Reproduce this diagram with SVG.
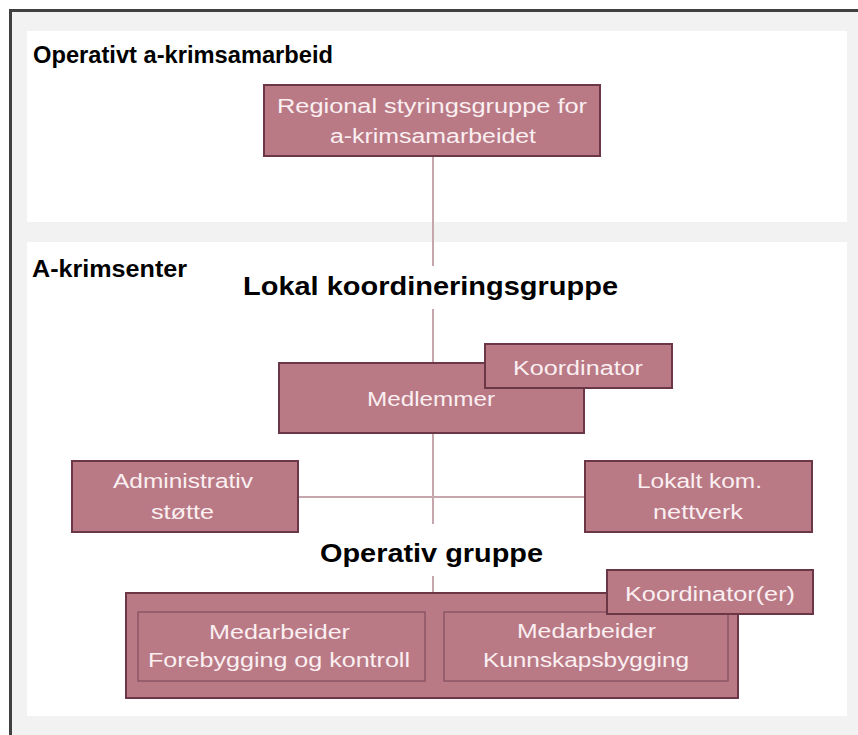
<svg xmlns="http://www.w3.org/2000/svg" width="858" height="735" viewBox="0 0 858 735">
<style>
.frame{fill:#f2f2f2;stroke:#404040;stroke-width:3}
.panel{fill:#ffffff}
.box{fill:#b97a86;stroke:#6b3746;stroke-width:2}
.inner{fill:#b97a86;stroke:#8c5664;stroke-width:1.5}
.bt{font-family:"Liberation Sans",Arial,sans-serif;font-size:20px;fill:#fbeff1;text-anchor:middle}
.hd{font-family:"Liberation Sans",Arial,sans-serif;font-weight:bold;fill:#000000}
.hc{text-anchor:middle}
.conn{stroke:#c7a7ae;stroke-width:2;fill:none}
</style>
<g id="background">
<rect class="frame" x="10.5" y="10.5" width="870" height="750"/>
<rect class="panel" x="27" y="31" width="820" height="191"/>
<rect class="panel" x="27" y="242" width="820" height="474"/>
<text class="hd" x="33" y="63" font-size="23" textLength="300" lengthAdjust="spacingAndGlyphs">Operativt a-krimsamarbeid</text>
<text class="hd" x="32" y="277" font-size="23" textLength="155" lengthAdjust="spacingAndGlyphs">A-krimsenter</text>
</g>
<g id="connectors">
<line class="conn" x1="433" y1="156" x2="433" y2="266"/>
<line class="conn" x1="433" y1="309" x2="433" y2="363"/>
<line class="conn" x1="433" y1="433" x2="433" y2="524"/>
<line class="conn" x1="433" y1="576" x2="433" y2="593"/>
<line class="conn" x1="298" y1="497" x2="585" y2="497"/>
</g>
<g id="regional">
<rect class="box" x="264" y="85" width="336" height="71"/>
<text class="bt" x="432" y="113" textLength="310" lengthAdjust="spacingAndGlyphs">Regional styringsgruppe for</text>
<text class="bt" x="433" y="143" textLength="206" lengthAdjust="spacingAndGlyphs">a-krimsamarbeidet</text>
</g>
<g id="lokal-koordineringsgruppe">
<text class="hd hc" x="430.5" y="295" font-size="26" textLength="375" lengthAdjust="spacingAndGlyphs">Lokal koordineringsgruppe</text>
</g>
<g id="medlemmer">
<rect class="box" x="279" y="363" width="305" height="70"/>
<text class="bt" x="431" y="406" textLength="128" lengthAdjust="spacingAndGlyphs">Medlemmer</text>
</g>
<g id="koordinator">
<rect class="box" x="485" y="344" width="187" height="44"/>
<text class="bt" x="578" y="375" textLength="130" lengthAdjust="spacingAndGlyphs">Koordinator</text>
</g>
<g id="administrativ">
<rect class="box" x="72" y="461" width="226" height="71"/>
<text class="bt" x="183" y="488" textLength="140" lengthAdjust="spacingAndGlyphs">Administrativ</text>
<text class="bt" x="182.5" y="519" textLength="63" lengthAdjust="spacingAndGlyphs">støtte</text>
</g>
<g id="lokalt-nettverk">
<rect class="box" x="585" y="461" width="227" height="71"/>
<text class="bt" x="699.5" y="488" textLength="125" lengthAdjust="spacingAndGlyphs">Lokalt kom.</text>
<text class="bt" x="698" y="519" textLength="90" lengthAdjust="spacingAndGlyphs">nettverk</text>
</g>
<g id="operativ-gruppe">
<text class="hd hc" x="431.5" y="562" font-size="26" textLength="223" lengthAdjust="spacingAndGlyphs">Operativ gruppe</text>
<rect class="box" x="126" y="593" width="612" height="105"/>
</g>
<g id="forebygging">
<rect class="inner" x="138" y="612" width="287" height="69"/>
<text class="bt" x="279.5" y="639" textLength="141" lengthAdjust="spacingAndGlyphs">Medarbeider</text>
<text class="bt" x="279" y="667" textLength="262" lengthAdjust="spacingAndGlyphs">Forebygging og kontroll</text>
</g>
<g id="kunnskapsbygging">
<rect class="inner" x="444" y="612" width="284" height="69"/>
<text class="bt" x="586.5" y="638" textLength="139" lengthAdjust="spacingAndGlyphs">Medarbeider</text>
<text class="bt" x="586" y="667" textLength="206" lengthAdjust="spacingAndGlyphs">Kunnskapsbygging</text>
</g>
<g id="koordinatorer">
<rect class="box" x="607" y="570" width="206" height="44"/>
<text class="bt" x="710" y="601" textLength="170" lengthAdjust="spacingAndGlyphs">Koordinator(er)</text>
</g>
</svg>
